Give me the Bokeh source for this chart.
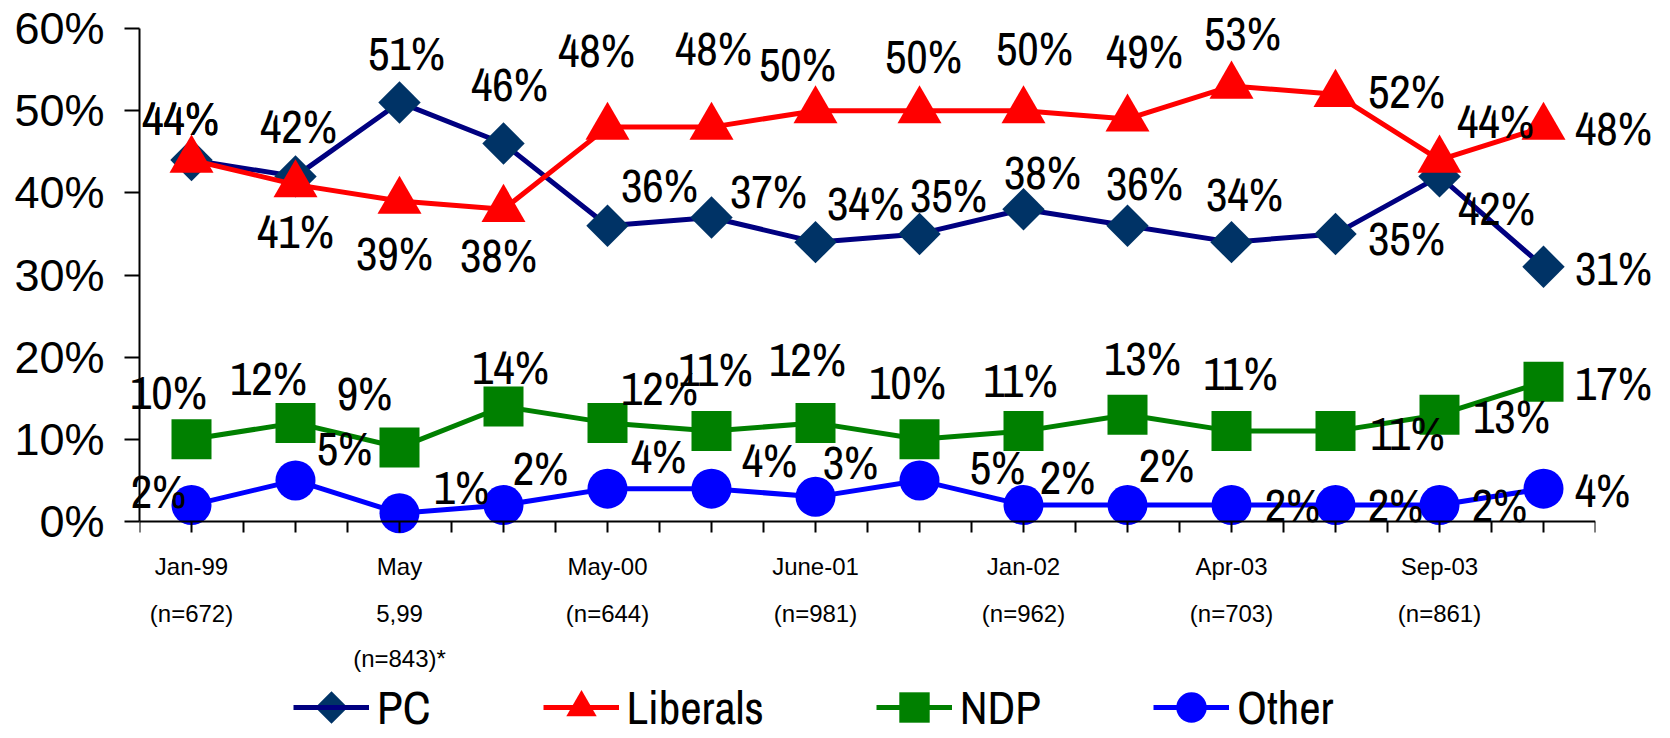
import numpy as np
from bokeh.plotting import figure
from bokeh.models import (Range1d, FixedTicker, Legend, LegendItem,
                          ColumnDataSource, PrintfTickFormatter)
from bokeh.core.properties import value
from bokeh.embed import file_html
from bokeh.resources import INLINE

# ---------------- data ----------------
dates = ["Jan-99", "May\n5,99", "May-00", "June-01", "Jan-02", "Apr-03", "Sep-03"]
samples = ["(n=672)", "(n=843)*", "(n=644)", "(n=981)", "(n=962)", "(n=703)", "(n=861)"]
pc = [44, 42, 51, 46, 36, 37, 34, 35, 38, 36, 34, 35, 42, 31]
liberals = [44, 41, 39, 38, 48, 48, 50, 50, 50, 49, 53, 52, 44, 48]
ndp = [10, 12, 9, 14, 12, 11, 12, 10, 11, 13, 11, 11, 13, 17]
other = [2, 5, 1, 2, 4, 4, 3, 5, 2, 2, 2, 2, 2, 4]
y_ticks = [0, 10, 20, 30, 40, 50, 60]

# ---------------- label placement (styling, screen px) ----------------
pc_off = [(-11, -42), (3, -50), (7, -49), (6, -60), (52, -41), (57, -26), (50, -39),
          (29, -39), (19, -37), (17, -43), (13, -48), (71, 4), (57, 32), (70, 1)]
lib_off = [(-11, -42), (0, 46), (-5, 52), (-5, 46), (-11, -77), (2, -79), (-18, -47),
           (4, -55), (11, -63), (17, -68), (11, -53), (71, -3), (56, -39), (70, 1)]
ndp_off = [(-23, -47), (-27, -45), (-35, -55), (7, -39), (52, -35), (4, -62), (-8, -64),
           (-12, -57), (-3, -51), (15, -57), (9, -58), (72, 2), (72, 1), (70, 1)]
oth_off = [(-33, -14), (49, -32), (62, -26), (37, -37), (51, -33), (58, -29), (35, -35),
           (78, -13), (44, -28), (39, -40), (61, 0), (60, 0), (60, 0), (59, 1)]

n_pts = len(pc)
xs = list(range(n_pts))
label_every = 2

NARROW = "Archivo Narrow, Liberation Sans"
AXIS_FONT = "Liberation Sans"

# layout: plot frame spans from 60% (y=28px) down to the bottom of the page;
# the 0% line sits at y=521px, the frame continues below zero for labels/legend.
W, H = 1670, 738
TOP, ZERO, LEFT, RIGHT = 28, 521, 139, 1595
px_per_unit = (ZERO - TOP) / 60.0
y_min = -(H - ZERO) / px_per_unit
cat_w = (RIGHT - LEFT) / n_pts

p = figure(width=W, height=H,
           x_range=Range1d(-0.5, n_pts - 0.5), y_range=Range1d(y_min, 60),
           output_backend="svg", toolbar_location=None,
           min_border_left=LEFT, min_border_right=W - RIGHT,
           min_border_top=TOP, min_border_bottom=0)
p.outline_line_color = None
p.xgrid.visible = False
p.ygrid.visible = False
p.background_fill_color = "white"
p.border_fill_color = "white"

# y axis
ya = p.yaxis[0]
ya.ticker = FixedTicker(ticks=y_ticks)
ya.bounds = (0, 60)
ya.formatter = PrintfTickFormatter(format="%d%%")
ya.major_label_text_font = AXIS_FONT
ya.major_label_text_font_size = "45px"
ya.major_label_text_color = "black"
ya.major_tick_out = 15
ya.major_tick_in = 0
ya.minor_tick_out = 0
ya.minor_tick_in = 0
ya.major_label_standoff = 20
ya.axis_line_width = 2
ya.major_tick_line_width = 2

# x axis at 0%: labelled ticks at every other category, plain ticks at half steps
lab_pos = xs[::label_every]
other_pos = [i * 0.5 - 0.5 for i in range(2 * n_pts + 1) if (i * 0.5 - 0.5) not in lab_pos]
xa = p.xaxis[0]
xa.fixed_location = 0
xa.ticker = FixedTicker(ticks=lab_pos, minor_ticks=other_pos)
xa.major_label_overrides = {x: d.split("\n")[0] for x, d in zip(lab_pos, dates)}
xa.major_label_text_font = AXIS_FONT
xa.major_label_text_font_size = "24px"
xa.major_label_text_color = "black"
xa.major_label_standoff = 20
xa.major_tick_out = 11
xa.major_tick_in = 0
xa.minor_tick_out = 11
xa.minor_tick_in = 0
xa.axis_line_width = 2
xa.major_tick_line_width = 2
xa.minor_tick_line_width = 2
xa.minor_tick_line_color = "black"

# remaining lines of the category labels
cx, cy, ct, coff = [], [], [], []
for x, d, s in zip(lab_pos, dates, samples):
    lines = d.split("\n")[1:] + [s]
    for j, t in enumerate(lines):
        cx.append(x)
        cy.append(0)
        ct.append(t)
        coff.append(92 + 45 * j)
p.text(x="x", y="y", text="t", y_offset="off",
       source=ColumnDataSource(dict(x=cx, y=cy, t=ct, off=coff)),
       text_font=value(AXIS_FONT), text_font_size="24px", text_color="black",
       text_align="center", text_baseline="middle", level="overlay")

series = [
    ("PC", pc, "#000080", "#003366", "square", 30, np.pi / 4, pc_off),
    ("Liberals", liberals, "#FF0000", "#FF0000", "triangle", 44, 0, lib_off),
    ("NDP", ndp, "#008000", "#008000", "square", 40, 0, ndp_off),
    ("Other", other, "#0000FF", "#0000FF", "circle", 40, 0, oth_off),
]

items = []
label_sources = []
for name, vals, lc, mc, mk, sz, ang, off in series:
    src = ColumnDataSource(dict(x=xs, y=vals))
    ln = p.line("x", "y", source=src, line_color=lc, line_width=5)
    sc = p.scatter("x", "y", source=src, marker=mk, size=sz, angle=ang,
                   fill_color=mc, line_color=None)
    # the legend cannot rotate markers, so PC's diamond key is drawn separately
    items.append(LegendItem(label=name, renderers=[ln] if ang else [ln, sc]))
    label_sources.append(ColumnDataSource(dict(
        x=xs, y=vals, t=[f"{v}%" for v in vals],
        dx=[o[0] for o in off], dy=[o[1] for o in off])))

for ls in label_sources:
    p.text(x="x", y="y", text="t", x_offset="dx", y_offset="dy", source=ls,
           text_font=value(NARROW), text_font_size="47px",
           text_color="black", text_align="center", text_baseline="middle",
           level="overlay")

# legend inside the (extended) frame, under the category labels
LEG_X, LEG_CY, GLYPH_W, GLYPH_H = 293, 707, 76, 76
legend = Legend(items=items, orientation="horizontal",
                location=(LEG_X - LEFT, -(LEG_CY + GLYPH_H / 2 - H)),
                glyph_width=GLYPH_W, glyph_height=GLYPH_H, label_standoff=8, spacing=112,
                padding=0, margin=0, border_line_color=None,
                background_fill_alpha=0,
                label_text_font=NARROW,
                label_text_font_size="47px", label_text_color="black")
p.add_layout(legend)

# diamond key for PC in the legend
key_x = -0.5 + (LEG_X + GLYPH_W / 2 - LEFT) / cat_w
key_y = (ZERO - LEG_CY) / px_per_unit
p.scatter([key_x], [key_y], marker="square", size=23, angle=np.pi / 4,
          fill_color="#003366", line_color=None, level="overlay")

open("out.html", "w").write(file_html(p, INLINE))
